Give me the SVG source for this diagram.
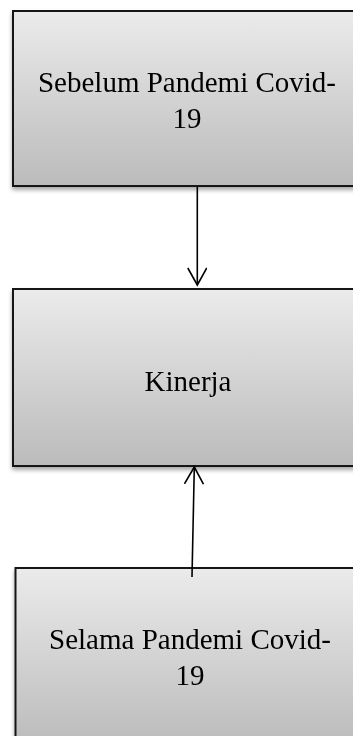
<svg xmlns="http://www.w3.org/2000/svg" width="353" height="736" viewBox="0 0 353 736">
  <defs>
    <linearGradient id="boxFill" x1="0" y1="0" x2="0" y2="1">
      <stop offset="0" stop-color="#ebebeb"/>
      <stop offset="1" stop-color="#bbbbbb"/>
    </linearGradient>
    <filter id="drop" x="-10%" y="-10%" width="125%" height="125%">
      <feGaussianBlur in="SourceAlpha" stdDeviation="2"/>
      <feOffset dx="0" dy="3" result="blur"/>
      <feComponentTransfer><feFuncA type="linear" slope="0.35"/></feComponentTransfer>
      <feMerge><feMergeNode/><feMergeNode in="SourceGraphic"/></feMerge>
    </filter>
    <marker id="openArrow" viewBox="0 0 20 20" refX="18" refY="10" markerWidth="20" markerHeight="20" markerUnits="userSpaceOnUse" orient="auto">
      <path d="M1,0.5 L18,10 L1,19.5" fill="none" stroke="#000" stroke-width="1.6"/>
    </marker>
  </defs>
  <style>
    .box { fill: url(#boxFill); stroke: #141414; stroke-width: 2; }
    .label { font-family: "Liberation Serif", "Times New Roman", serif; font-size: 29px; fill: #000; text-anchor: middle; }
    .link { stroke: #000; stroke-width: 1.6; fill: none; }
  </style>

  <rect width="353" height="736" fill="#ffffff"/>

  <g id="node-sebelum" filter="url(#drop)">
    <rect class="box" x="13" y="11" width="348" height="175"/>
    <text class="label" x="187" y="92">Sebelum Pandemi Covid-</text>
    <text class="label" x="187" y="128">19</text>
  </g>

  <g id="node-kinerja" filter="url(#drop)">
    <rect class="box" x="13" y="289" width="348" height="177"/>
    <text class="label" x="188" y="391">Kinerja</text>
  </g>

  <g id="node-selama" filter="url(#drop)">
    <rect class="box" x="15.5" y="568" width="348" height="178"/>
    <text class="label" x="190" y="649">Selama Pandemi Covid-</text>
    <text class="label" x="190" y="685">19</text>
  </g>

  <g id="connectors">
    <line class="link" x1="197.3" y1="187" x2="197.3" y2="285" marker-end="url(#openArrow)"/>
    <line class="link" x1="192" y1="577" x2="194.3" y2="467" marker-end="url(#openArrow)"/>
  </g>
</svg>
